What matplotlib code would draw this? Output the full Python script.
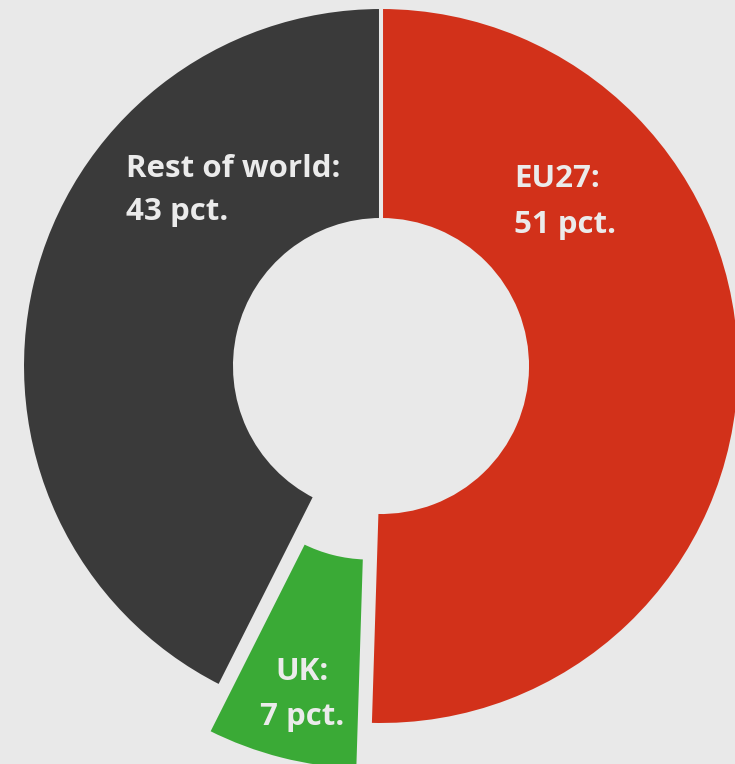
import matplotlib
matplotlib.use('Agg')
import matplotlib.pyplot as plt

regions = ['EU27', 'UK', 'Rest of world']
shares = [51, 7, 43]
colors = ['#d2311a', '#3aaa36', '#3a3a3a']

bg = '#e9e9e9'
W, H = 735, 764

fig = plt.figure(figsize=(W / 100, H / 100), dpi=100, facecolor=bg)
ax = fig.add_axes([0, 0, 1, 1])
ax.set_facecolor(bg)

R = 359
cx, cy = 381, H - 366
ax.pie(shares, colors=colors, startangle=90, counterclock=False,
       radius=R, center=(cx, cy), explode=[0, 47, 0],
       wedgeprops=dict(width=R - 146, edgecolor=bg, linewidth=2.9))

ax.set_xlim(0, W)
ax.set_ylim(0, H)
ax.set_aspect('equal')
ax.axis('off')

txt = dict(color='#ebebeb', fontsize=22.5, fontweight='bold',
           family=['Open Sans', 'DejaVu Sans'])


def label(x, baselines, lines, ha='left'):
    for yb, s in zip(baselines, lines):
        ax.text(x, H - yb, s, ha=ha, va='baseline', **txt)


label(126, [177, 220], ['Rest of world:', f'{shares[2]} pct.'])
label(514, [187, 233], [f'{regions[0]}:', f'{shares[0]} pct.'])
label(302, [680, 725], [f'{regions[1]}:', f'{shares[1]} pct.'], ha='center')

fig.savefig('out.png', dpi=100, facecolor=bg)
